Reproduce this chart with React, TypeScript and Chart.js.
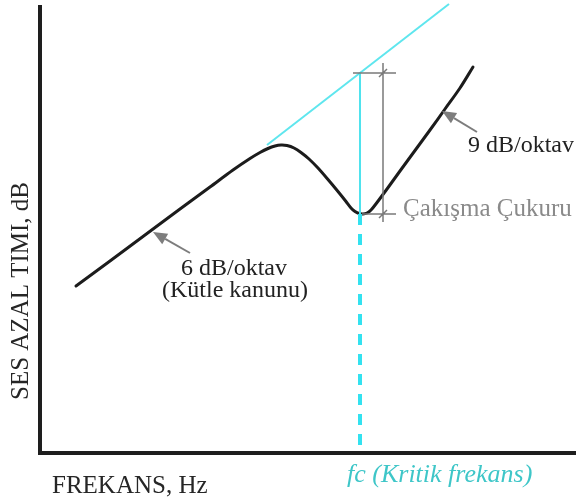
import React, { useEffect, useRef } from "react";
import { Chart, registerables } from "chart.js";

Chart.register(...registerables);

// Frequency (relative units) and sound reduction (relative units) of the wall curve
const curveFreq = [36, 70, 105, 140, 170, 193, 210, 220, 228, 235, 241, 247, 254, 261, 269, 278, 288, 298, 306, 311, 315, 319, 323, 327, 331, 337, 347, 360, 375, 390, 405, 420, 433];
const curveLoss = [167, 192, 218, 244, 266, 283, 294.5, 300.5, 304.5, 307, 308, 307.5, 305, 300.5, 294, 285, 273.5, 261.5, 251.5, 245, 241.5, 239.5, 239, 240, 243, 250.5, 264, 282, 302.5, 323, 344, 365, 386];

// Mass-law extension (cyan)
const massLawFreq = [227, 409];
const massLawLoss = [308, 449];

// Critical frequency marker
const fcFreq = 320;
const fcTopLoss = 380;
const dipLoss = 239;

// Dimension (coincidence dip depth)
const dimFreq = 343;
const dimTopFrom = 313;
const dimBottomFrom = 322;
const dimRightTo = 356;
const dimLossRange = [231, 390];

// Arrows: [tailFreq, tailLoss, headFreq, headLoss]
const arrow6 = [150, 200, 113, 221];
const arrow9 = [437, 321, 402, 342];

// Labels
const yTitle = "SES AZAL TIMI, dB";
const xTitle = "FREKANS, Hz";
const fcLabel = "fc (Kritik frekans)";
const label6a = "6 dB/oktav";
const label6b = "(Kütle kanunu)";
const label9 = "9 dB/oktav";
const dipLabel = "Çakışma Çukuru";

const SERIF = '"Liberation Serif", "Times New Roman", serif';

const annotationPlugin = {
  id: "annotations",
  afterDatasetsDraw(chart: any) {
    const ctx = chart.ctx;
    const xs = chart.scales.x;
    const ys = chart.scales.y;
    const X = (v: number) => xs.getPixelForValue(v);
    const Y = (v: number) => ys.getPixelForValue(v);
    ctx.save();

    // dimension lines
    ctx.strokeStyle = "#7a7a7a";
    ctx.lineWidth = 1.5;
    ctx.beginPath();
    ctx.moveTo(X(dimTopFrom), Y(fcTopLoss));
    ctx.lineTo(X(dimRightTo), Y(fcTopLoss));
    ctx.moveTo(X(dimBottomFrom), Y(dipLoss));
    ctx.lineTo(X(dimRightTo), Y(dipLoss));
    ctx.moveTo(X(dimFreq), Y(dimLossRange[0]));
    ctx.lineTo(X(dimFreq), Y(dimLossRange[1]));
    for (const l of [fcTopLoss, dipLoss]) {
      ctx.moveTo(X(dimFreq) - 4, Y(l) + 4);
      ctx.lineTo(X(dimFreq) + 4, Y(l) - 4);
    }
    ctx.stroke();

    // arrows
    const drawArrow = (a: number[]) => {
      const x1 = X(a[0]), y1 = Y(a[1]), x2 = X(a[2]), y2 = Y(a[3]);
      const ang = Math.atan2(y2 - y1, x2 - x1);
      const hl = 14, hw = 6;
      const bx = x2 - hl * Math.cos(ang), by = y2 - hl * Math.sin(ang);
      ctx.strokeStyle = "#7d7d7d";
      ctx.fillStyle = "#7d7d7d";
      ctx.lineWidth = 2;
      ctx.beginPath();
      ctx.moveTo(x1, y1);
      ctx.lineTo(bx, by);
      ctx.stroke();
      ctx.beginPath();
      ctx.moveTo(x2, y2);
      ctx.lineTo(bx + hw * Math.sin(ang), by - hw * Math.cos(ang));
      ctx.lineTo(bx - hw * Math.sin(ang), by + hw * Math.cos(ang));
      ctx.closePath();
      ctx.fill();
    };
    drawArrow(arrow6);
    drawArrow(arrow9);

    // texts
    ctx.textBaseline = "alphabetic";
    ctx.fillStyle = "#222";
    ctx.font = `24px ${SERIF}`;
    ctx.textAlign = "center";
    ctx.fillText(label6a, 234, 275);
    ctx.fillText(label6b, 235, 297);
    ctx.textAlign = "left";
    ctx.fillText(label9, 468, 152);
    ctx.fillStyle = "#8a8a8a";
    ctx.font = `25px ${SERIF}`;
    ctx.fillText(dipLabel, 403, 216);

    ctx.fillStyle = "#262626";
    ctx.font = `25px ${SERIF}`;
    ctx.fillText(xTitle, 52, 493);

    ctx.fillStyle = "#3ec6c8";
    ctx.font = `italic 26px ${SERIF}`;
    ctx.fillText(fcLabel, 347, 482);

    ctx.fillStyle = "#262626";
    ctx.font = `25px ${SERIF}`;
    ctx.translate(28, 291);
    ctx.rotate(-Math.PI / 2);
    ctx.textAlign = "center";
    ctx.fillText(yTitle, 0, 0);
    ctx.restore();
  },
};

export default function App() {
  const ref = useRef<HTMLCanvasElement | null>(null);
  useEffect(() => {
    if (!ref.current) return;
    const pts = (xs: number[], ys: number[]) => xs.map((x, i) => ({ x, y: ys[i] }));
    const chart = new Chart(ref.current, {
      type: "line",
      data: {
        datasets: [
          {
            label: "Kütle kanunu",
            data: pts(massLawFreq, massLawLoss),
            borderColor: "#5fe6ee",
            borderWidth: 2,
            pointRadius: 0,
            clip: false as any,
          },
          {
            label: "fc",
            data: pts([fcFreq, fcFreq], [fcTopLoss, dipLoss]),
            borderColor: "#4fe3ee",
            borderWidth: 2,
            pointRadius: 0,
          },
          {
            label: "fc dashed",
            data: pts([fcFreq, fcFreq], [dipLoss, 0]),
            borderColor: "#33e2f0",
            borderWidth: 4,
            borderDash: [11, 9],
            pointRadius: 0,
          },
          {
            label: "Ses azaltımı",
            data: pts(curveFreq, curveLoss),
            borderColor: "#1c1c1c",
            borderWidth: 3,
            pointRadius: 0,
            tension: 0.3,
            borderCapStyle: "round",
            borderJoinStyle: "round",
          },
        ],
      },
      options: {
        animation: false,
        responsive: true,
        maintainAspectRatio: false,
        layout: { padding: { left: 40, right: 0, top: 7, bottom: 46 } },
        plugins: { legend: { display: false }, tooltip: { enabled: false } },
        scales: {
          x: {
            type: "linear",
            min: 0,
            max: 536,
            grid: { display: false, drawTicks: false },
            ticks: { display: false },
            border: { display: true, color: "#1e1e1e", width: 4 },
          },
          y: {
            type: "linear",
            min: 0,
            max: 446,
            grid: { display: false, drawTicks: false },
            ticks: { display: false },
            border: { display: true, color: "#1e1e1e", width: 4 },
          },
        },
      },
      plugins: [annotationPlugin],
    });
    return () => chart.destroy();
  }, []);
  return (
    <div style={{ position: "absolute", left: 0, top: 0, width: 576, height: 499, background: "#fff" }}>
      <canvas ref={ref} />
    </div>
  );
}
